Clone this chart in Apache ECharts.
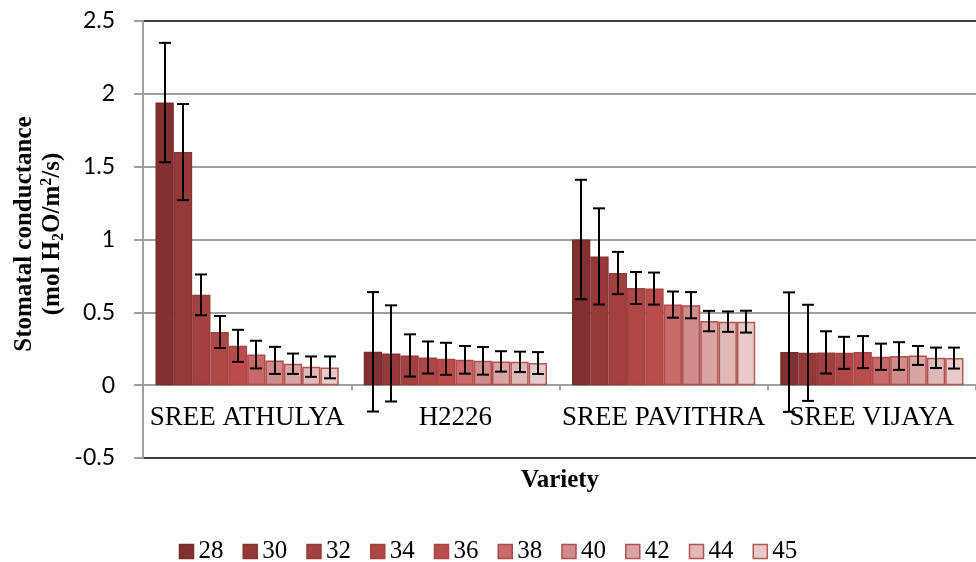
<!DOCTYPE html>
<html>
<head>
<meta charset="utf-8">
<script src="https://cdn.jsdelivr.net/npm/echarts@6/dist/echarts.min.js"></script>
<style>
  html, body { margin: 0; padding: 0; background: #fff; }
  #chart { width: 976px; height: 562px; }
</style>
</head>
<body>
<div id="chart"></div>
<script>
// Varieties on the category axis
const varieties = ['SREE ATHULYA', 'H2226', 'SREE PAVITHRA', 'SREE VIJAYA'];
// Temperature levels (one bar series each)
const temps = ['28', '30', '32', '34', '36', '38', '40', '42', '44', '45'];

// Mean stomatal conductance per variety, ordered by temperature
const athulyaMean  = [1.94, 1.60, 0.62, 0.365, 0.27, 0.21, 0.17, 0.147, 0.127, 0.122];
const h2226Mean    = [0.229, 0.218, 0.204, 0.19, 0.181, 0.174, 0.167, 0.163, 0.16, 0.152];
const pavithraMean = [1.0, 0.884, 0.77, 0.667, 0.663, 0.553, 0.549, 0.44, 0.436, 0.436];
const vijayaMean   = [0.227, 0.222, 0.225, 0.222, 0.227, 0.195, 0.2, 0.204, 0.188, 0.186];

// Error bar half-lengths per variety, ordered by temperature
const athulyaErr  = [0.41, 0.33, 0.14, 0.11, 0.11, 0.095, 0.093, 0.07, 0.07, 0.075];
const h2226Err    = [0.41, 0.33, 0.145, 0.11, 0.11, 0.095, 0.095, 0.07, 0.07, 0.075];
const pavithraErr = [0.41, 0.33, 0.145, 0.11, 0.11, 0.09, 0.09, 0.07, 0.07, 0.075];
const vijayaErr   = [0.41, 0.33, 0.145, 0.11, 0.11, 0.09, 0.095, 0.065, 0.07, 0.072];

// Y axis range
const yMin = -0.5, yMax = 2.5, yStep = 0.5;

const means = [athulyaMean, h2226Mean, pavithraMean, vijayaMean];
const errs = [athulyaErr, h2226Err, pavithraErr, vijayaErr];

const fills   = ['#833030', '#953A39', '#A2413F', '#AE4745', '#BA4C4B', '#C76A69', '#D08C8B', '#D9A5A4', '#E0B8B7', '#E8CACA'];
const borders = ['#7A2C2C', '#8A3534', '#963C3B', '#A24241', '#AA4545', '#AE4A49', '#AE4E4D', '#B05251', '#B05453', '#B45756'];

const CAT_GAP = 0.12;
const SERIF = '"Liberation Serif", "Times New Roman", serif';

// Plot area
const GRID_TOP = 21, GRID_BOTTOM = 104, CHART_H = 562;
const plotH = CHART_H - GRID_TOP - GRID_BOTTOM;
// The category axis crosses the value axis at 0
const zeroShift = -plotH * (0 - yMin) / (yMax - yMin);

const barSeries = temps.map((t, i) => ({
  name: t,
  type: 'bar',
  barGap: '0%',
  barCategoryGap: (CAT_GAP * 100) + '%',
  data: means.map(m => m[i]),
  itemStyle: { color: fills[i], borderColor: borders[i], borderWidth: 1.5 },
  emphasis: { disabled: true },
  z: 2
}));

// Error bars: one item per (variety, temperature)
const errData = [];
means.forEach((m, c) => {
  m.forEach((v, s) => errData.push([c, v, s, errs[c][s]]));
});

const errorSeries = {
  type: 'custom',
  name: 'err',
  data: errData,
  encode: { x: 0, y: 1 },
  z: 10,
  silent: true,
  renderItem: function (params, api) {
    const c = api.value(0), v = api.value(1), s = api.value(2), e = api.value(3);
    const base = api.coord([c, v]);
    const catW = api.size([1, 0])[0];
    const bw = catW * (1 - CAT_GAP) / temps.length;
    const x = Math.round(base[0] + (s - (temps.length - 1) / 2) * bw);
    const top = api.coord([c, v + e])[1];
    const bot = api.coord([c, v - e])[1];
    const cap = 6;
    const st = { stroke: '#000', lineWidth: 2 };
    return {
      type: 'group',
      children: [
        { type: 'line', shape: { x1: x, y1: top, x2: x, y2: bot }, style: st },
        { type: 'line', shape: { x1: x - cap, y1: top, x2: x + cap, y2: top }, style: st },
        { type: 'line', shape: { x1: x - cap, y1: bot, x2: x + cap, y2: bot }, style: st }
      ]
    };
  }
};

const gridColors = [];
for (let v = yMin; v <= yMax + 1e-9; v += yStep) {
  gridColors.push(Math.abs(v - yMin) < 1e-9 || Math.abs(v - yMax) < 1e-9 ? '#3c3c3c' : '#a0a0a0');
}

const chart = echarts.init(document.getElementById('chart'), null, { renderer: 'canvas' });
chart.setOption({
  animation: false,
  backgroundColor: '#fff',
  grid: { left: 143, right: -3, top: GRID_TOP, bottom: GRID_BOTTOM, containLabel: false },
  legend: {
    data: temps,
    left: 'center',
    top: 534,
    icon: 'rect',
    itemWidth: 14,
    itemHeight: 14,
    itemGap: 19,
    itemStyle: { borderWidth: 1.5 },
    textStyle: { fontFamily: SERIF, fontSize: 25, color: '#000' }
  },
  xAxis: {
    type: 'category',
    data: varieties,
    position: 'bottom',
    offset: zeroShift,
    axisLine: { onZero: false, lineStyle: { color: '#a0a0a0', width: 2 } },
    axisTick: { show: true, length: 5, lineStyle: { color: '#a0a0a0', width: 2 } },
    axisLabel: { fontFamily: SERIF, fontSize: 27, color: '#000', margin: 19, interval: 0 }
  },
  yAxis: {
    type: 'value',
    min: yMin,
    max: yMax,
    interval: yStep,
    axisLine: { show: true, lineStyle: { color: '#a0a0a0', width: 2 } },
    axisTick: { show: true, length: 9, lineStyle: { color: '#a0a0a0', width: 2 } },
    axisLabel: { fontFamily: 'Lato, "Open Sans", sans-serif', fontSize: 23, color: '#000', margin: 28 },
    splitLine: { show: true, lineStyle: { color: gridColors, width: 2 } }
  },
  graphic: [
    {
      type: 'text',
      x: 39,
      y: 234,
      rotation: Math.PI / 2,
      style: {
        text: '{b|Stomatal conductance}\n{b|(mol H}{sub|2}{b|O/m}{sup|2}{b|/s)}',
        align: 'center',
        verticalAlign: 'middle',
        rich: {
          b: { fontFamily: SERIF, fontSize: 25, fontWeight: 'bold', color: '#000', lineHeight: 28 },
          sub: { fontFamily: SERIF, fontSize: 16, fontWeight: 'bold', color: '#000', lineHeight: 16, verticalAlign: 'bottom' },
          sup: { fontFamily: SERIF, fontSize: 16, fontWeight: 'bold', color: '#000', lineHeight: 16, verticalAlign: 'top' }
        }
      }
    },
    {
      type: 'text',
      x: 560,
      y: 481,
      style: {
        text: 'Variety',
        align: 'center',
        verticalAlign: 'middle',
        fontFamily: SERIF,
        fontSize: 25,
        fontWeight: 'bold',
        fill: '#000'
      }
    }
  ],
  series: barSeries.concat([errorSeries])
});
</script>
</body>
</html>
